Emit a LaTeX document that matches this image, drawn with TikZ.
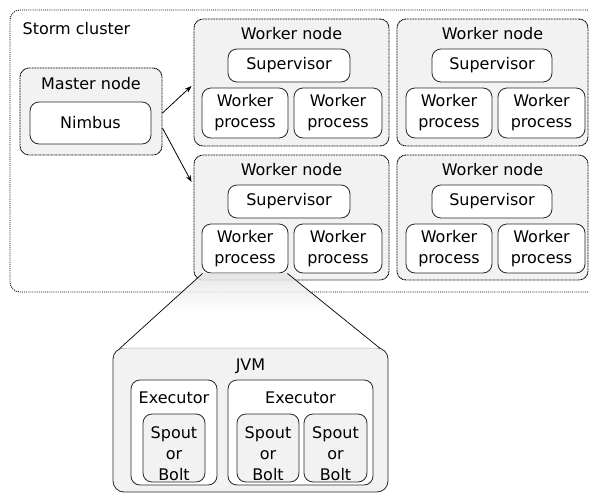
\documentclass[tikz,border=0pt]{standalone}
\usepackage{fontspec}
\setmainfont{DejaVu Sans}
\usetikzlibrary{arrows.meta,calc}
\definecolor{boxgray}{RGB}{242,242,242}
\definecolor{edgegray}{RGB}{40,40,40}
\begin{document}
\begin{tikzpicture}[x=1pt,y=-1pt,
  every node/.style={font=\fontsize{16}{21}\selectfont, inner sep=0pt},
  group/.style={draw=black, dash pattern=on 1pt off 0.6pt, line width=0.9pt, fill=boxgray, rounded corners=9pt},
  inbox/.style={draw=edgegray, solid, line width=0.8pt, fill=white, rounded corners=9pt, align=center},
  graybox/.style={draw=edgegray, solid, line width=0.8pt, fill=boxgray, rounded corners=9pt, align=center},
  title/.style={anchor=base},
  arr/.style={-{Stealth[length=7pt,width=5pt]}, line width=0.8pt, black}
]
\useasboundingbox (0,0) rectangle (589,493);

% cluster
\node[draw=black, dash pattern=on 1pt off 1.1pt, line width=0.9pt, rounded corners=10pt,
      minimum width=590pt, minimum height=282pt] (cluster) at (305,151) {};
\node[anchor=base west] (clabel) at (22.5,34) {Storm cluster};

% master node
\node[group, minimum width=142pt, minimum height=87pt] (master) at (91,111.5) {};
\node[title] (mtitle) at (91,89) {Master node};
\node[inbox, minimum width=121pt, minimum height=42pt] (nimbus) at (90.5,123) {Nimbus};

% worker nodes
\node[group, minimum width=195pt, minimum height=127pt] (w1) at (291.5,82.5) {};
\node[group, minimum width=191pt, minimum height=127pt] (w2) at (492.5,82.5) {};
\node[group, minimum width=195pt, minimum height=125pt] (w3) at (291.5,217.5) {};
\node[group, minimum width=191pt, minimum height=125pt] (w4) at (492.5,217.5) {};

\node[title] (t1) at (291.5,39.5) {Worker node};
\node[title] (t2) at (492.5,39.5) {Worker node};
\node[title] (t3) at (291.5,175) {Worker node};
\node[title] (t4) at (492.5,175) {Worker node};

\node[inbox, minimum width=122pt, minimum height=33pt] (s1) at (289,65.5) {Supervisor};
\node[inbox, minimum width=120pt, minimum height=33pt] (s2) at (492,65.5) {Supervisor};
\node[inbox, minimum width=122pt, minimum height=33pt] (s3) at (289,201.5) {Supervisor};
\node[inbox, minimum width=120pt, minimum height=33pt] (s4) at (492,201.5) {Supervisor};

\node[inbox, minimum width=86pt, minimum height=50pt] (p1a) at (245,113) {Worker\\process};
\node[inbox, minimum width=88pt, minimum height=50pt] (p1b) at (338,113) {Worker\\process};
\node[inbox, minimum width=86pt, minimum height=50pt] (p2a) at (449,113) {Worker\\process};
\node[inbox, minimum width=87pt, minimum height=50pt] (p2b) at (541.5,113) {Worker\\process};
\node[inbox, minimum width=86pt, minimum height=49pt] (p3a) at (245,248.5) {Worker\\process};
\node[inbox, minimum width=88pt, minimum height=49pt] (p3b) at (338,248.5) {Worker\\process};
\node[inbox, minimum width=86pt, minimum height=49pt] (p4a) at (449,248.5) {Worker\\process};
\node[inbox, minimum width=87pt, minimum height=49pt] (p4b) at (541.5,248.5) {Worker\\process};

% arrows
\draw[arr] ([yshift=-1.5pt]master.east) -- ([xshift=-2pt]w1.north west |- 0,86);
\draw[arr] ([yshift=-16.5pt]master.east) -- ([xshift=-2pt]w3.north west |- 0,182);

% JVM box
\node[graybox, rounded corners=11pt, minimum width=275pt, minimum height=144pt] (jvm) at (250.5,420) {};

% zoom trapezoid
\shade[top color=gray!22, bottom color=white, middle color=white, fill opacity=0.85]
  ([xshift=1pt]p3a.south west) -- ([xshift=-1pt]p3a.south east)
  -- ([xshift=-8pt,yshift=-1pt]jvm.north east) -- ([xshift=7pt,yshift=-1pt]jvm.north west) -- cycle;
\draw[line width=0.7pt] ([xshift=1pt]p3a.south west) -- ([xshift=7pt,yshift=-1pt]jvm.north west);
\draw[line width=0.7pt] ([xshift=-1pt]p3a.south east) -- ([xshift=-8pt,yshift=-1pt]jvm.north east);

\node[title] (jtitle) at (250.5,370) {JVM};

\node[inbox, minimum width=86pt, minimum height=105pt] (e1) at (174,432.5) {};
\node[inbox, minimum width=145pt, minimum height=105pt] (e2) at (300.5,432.5) {};
\node[title] (e1t) at (174,403) {Executor};
\node[title] (e2t) at (300.5,403) {Executor};

\node[graybox, minimum width=62pt, minimum height=68pt,
  label={[align=center, yshift=-5.5pt]center:Spout\\or\\Bolt}] (sb1) at (174,448) {};
\node[graybox, minimum width=62pt, minimum height=68pt,
  label={[align=center, yshift=-5.5pt]center:Spout\\or\\Bolt}] (sb2) at (268,448) {};
\node[graybox, minimum width=63pt, minimum height=68pt,
  label={[align=center, yshift=-5.5pt]center:Spout\\or\\Bolt}] (sb3) at (335.5,448) {};
\end{tikzpicture}
\end{document}
